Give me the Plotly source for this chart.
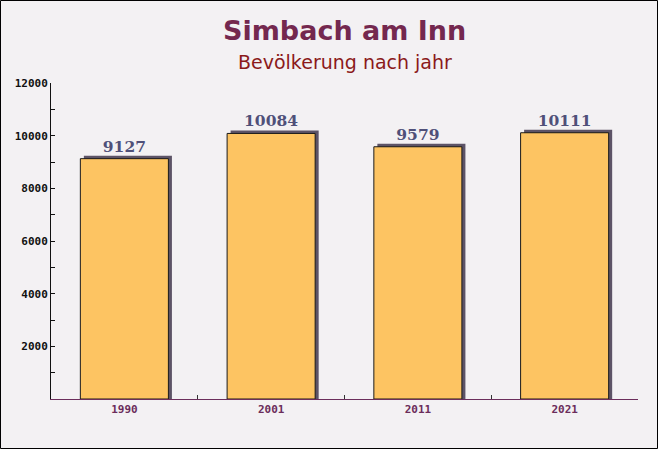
import plotly.graph_objects as go

years = ["1990", "2001", "2011", "2021"]
population = [9127, 10084, 9579, 10111]
y_ticks = [2000, 4000, 6000, 8000, 10000, 12000]
y_tick_labels = ["2000", "4000", "6000", "8000", "10000", "12000"]

W, H = 658, 449
ML, MR, MT, MB = 51, 20, 83, 50
plot_w = W - ML - MR
plot_h = H - MT - MB

bar_w = 0.6
shift_x = 0.024      # ~3.5px in category units
shift_y = 110        # ~3px in value units

fig = go.Figure()

# shadow (3D effect)
fig.add_trace(go.Bar(
    x=years, y=[v + shift_y for v in population],
    width=bar_w, offset=-bar_w / 2 + shift_x,
    marker=dict(color="#5c5366", line=dict(width=0)),
    hoverinfo="skip", showlegend=False,
))
# main bars
fig.add_trace(go.Bar(
    x=years, y=population,
    width=bar_w, offset=-bar_w / 2,
    marker=dict(color="#fdc462", line=dict(color="#1a1a1a", width=1)),
    text=[str(v) for v in population], textposition="outside",
    textfont=dict(family="DejaVu Serif", size=15.5, color="#4f5079", weight="bold"),
    cliponaxis=False, showlegend=False,
))

fig.update_layout(
    width=W, height=H,
    barmode="overlay",
    paper_bgcolor="#f3f1f3", plot_bgcolor="rgba(0,0,0,0)",
    margin=dict(l=ML, r=MR, t=MT, b=MB, autoexpand=False),
    annotations=[
        dict(text="<b>Simbach am Inn</b>", x=0.5, y=1 + (MT - 30) / plot_h,
             xref="paper", yref="paper", yanchor="middle",
             showarrow=False, font=dict(family="DejaVu Sans", size=27, color="#74284f")),
        dict(text="Bevölkerung nach jahr", x=0.5, y=1 + (MT - 62) / plot_h,
             xref="paper", yref="paper", yanchor="middle",
             showarrow=False, font=dict(family="DejaVu Sans", size=19, color="#8b1a1a")),
    ],
    shapes=[dict(type="rect", xref="paper", yref="paper",
                 x0=-(ML - 0.5) / plot_w, x1=1 + (MR - 0.5) / plot_w,
                 y0=-(MB - 0.5) / plot_h, y1=1 + (MT - 0.5) / plot_h,
                 line=dict(color="black", width=1))],
)

fig.update_xaxes(
    type="category", range=[-0.5, 3.5],
    showline=True, linecolor="#6b2d5b", linewidth=1,
    ticks="inside", tickson="boundaries", ticklen=4, tickcolor="#333333",
    tickfont=dict(family="DejaVu Sans Mono", size=11, color="#6b2d5b", weight="bold"),
    showgrid=False,
)
fig.update_yaxes(
    range=[0, 12000], tickvals=y_ticks, ticktext=y_tick_labels,
    showline=True, linecolor="#111111", linewidth=1,
    ticks="inside", ticklen=4, tickcolor="#111111",
    minor=dict(dtick=1000, ticks="inside", ticklen=4, tickcolor="#111111"),
    tickfont=dict(family="DejaVu Sans Mono", size=11, color="#111111", weight="bold"),
    showgrid=False, zeroline=False,
)

fig.write_html("out.html", config={"displayModeBar": False},
               post_script="document.body.style.margin='0';document.body.style.overflow='hidden';")
